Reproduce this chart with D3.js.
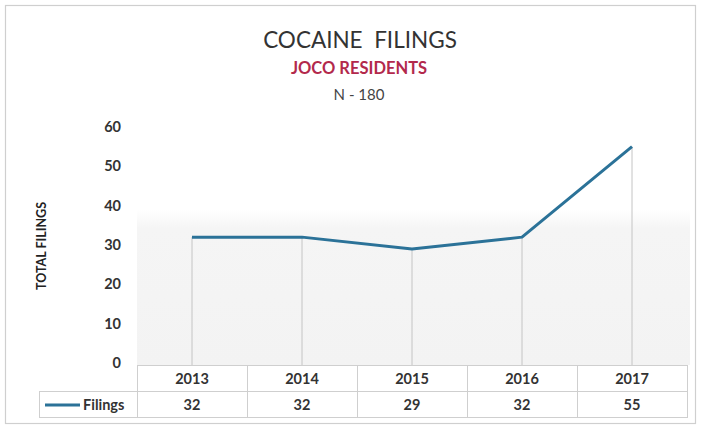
<!DOCTYPE html>
<html>
<head>
<meta charset="utf-8">
<script src="https://cdn.jsdelivr.net/npm/d3@7"></script>
<style>
  html, body { margin: 0; padding: 0; background: #fff; }
  svg { display: block; }
</style>
</head>
<body>
<svg id="chart" width="701" height="429"></svg>
<script>
// ---- data ----
const years = ["2013", "2014", "2015", "2016", "2017"];
const filings = [32, 32, 29, 32, 55];
const yTicks = [0, 10, 20, 30, 40, 50, 60];
const seriesName = "Filings";
const title = "COCAINE  FILINGS";
const subtitle = "JOCO RESIDENTS";
const note = "N - 180";
const yTitle = "TOTAL FILINGS";

// ---- layout ----
const W = 701, H = 429;
const plotLeft = 137, plotRight = 687, plotTop = 127, plotBottom = 363;
const tableTop = 365, rowH = 26, legendLeft = 39;
const lineColor = "#2b7298";
const font = "Lato, 'Open Sans', sans-serif";

const svg = d3.select("#chart");

const defs = svg.append("defs");
const grad = defs.append("linearGradient").attr("id", "shade").attr("x1", 0).attr("y1", 0).attr("x2", 0).attr("y2", 1);
grad.append("stop").attr("offset", "0%").attr("stop-color", "#f5f5f5").attr("stop-opacity", 0);
grad.append("stop").attr("offset", "12%").attr("stop-color", "#f5f5f5").attr("stop-opacity", 1);
grad.append("stop").attr("offset", "100%").attr("stop-color", "#f3f3f3").attr("stop-opacity", 1);

// outer frame
svg.append("rect").attr("x", 5.5).attr("y", 5.5).attr("width", W - 11).attr("height", H - 11)
  .attr("fill", "#fff").attr("stroke", "#cfcfcf").attr("stroke-width", 1.2);

const x = d3.scaleBand().domain(years).range([plotLeft, plotRight]);
const y = d3.scaleLinear().domain([0, 60]).range([plotBottom, plotTop]);

// faint plot area shading (scan texture)
svg.append("rect").attr("x", plotLeft).attr("y", y(39)).attr("width", plotRight - plotLeft + 3)
  .attr("height", tableTop - y(39)).attr("fill", "url(#shade)");

// titles
svg.append("text").attr("x", 360).attr("y", 48).attr("text-anchor", "middle")
  .attr("font-family", font).attr("font-size", 22.5).attr("fill", "#333")
  .attr("xml:space", "preserve").text(title);
svg.append("text").attr("x", 359).attr("y", 74).attr("text-anchor", "middle")
  .attr("font-family", font).attr("font-size", 16.5).attr("font-weight", "bold").attr("fill", "#b3294c")
  .text(subtitle);
svg.append("text").attr("x", 359).attr("y", 100).attr("text-anchor", "middle")
  .attr("font-family", font).attr("font-size", 15).attr("fill", "#444").text(note);

// y axis labels
const yAxis = d3.axisLeft(y).tickValues(yTicks).tickSize(0).tickPadding(0);
const gy = svg.append("g").attr("transform", "translate(121,0)").call(yAxis);
gy.select(".domain").remove();
gy.selectAll("text").attr("font-family", font).attr("font-size", 14.5).attr("font-weight", "bold")
  .attr("fill", "#333");

// y title
svg.append("text").attr("transform", "translate(46,246) rotate(-90)").attr("text-anchor", "middle")
  .attr("font-family", font).attr("font-size", 12.5).attr("font-weight", "bold").attr("fill", "#222")
  .text(yTitle);

// drop lines
svg.append("g").selectAll("line").data(years).join("line")
  .attr("x1", d => x(d) + x.bandwidth() / 2).attr("x2", d => x(d) + x.bandwidth() / 2)
  .attr("y1", (d, i) => y(filings[i])).attr("y2", tableTop)
  .attr("stroke", "#c4c4c4").attr("stroke-width", 1);

// line
const line = d3.line().x((d, i) => x(years[i]) + x.bandwidth() / 2).y(d => y(d));
svg.append("path").datum(filings).attr("d", line).attr("fill", "none")
  .attr("stroke", lineColor).attr("stroke-width", 3).attr("stroke-linejoin", "round");

// data table
const tg = svg.append("g");
const gridColor = "#cfcfcf";
tg.selectAll("rect.yr").data(years).join("rect").attr("class", "yr")
  .attr("x", d => x(d) + 0.5).attr("y", tableTop + 0.5).attr("width", x.bandwidth()).attr("height", rowH)
  .attr("fill", "#fff").attr("stroke", gridColor);
tg.selectAll("rect.val").data(years).join("rect").attr("class", "val")
  .attr("x", d => x(d) + 0.5).attr("y", tableTop + rowH + 0.5).attr("width", x.bandwidth()).attr("height", rowH)
  .attr("fill", "#fff").attr("stroke", gridColor);
tg.append("rect").attr("x", legendLeft + 0.5).attr("y", tableTop + rowH + 0.5)
  .attr("width", plotLeft - legendLeft).attr("height", rowH).attr("fill", "#fff").attr("stroke", gridColor);

tg.selectAll("text.yr").data(years).join("text").attr("class", "yr")
  .attr("x", d => x(d) + x.bandwidth() / 2).attr("y", tableTop + rowH / 2 + 5.5)
  .attr("text-anchor", "middle").attr("font-family", font).attr("font-size", 14.5).attr("font-weight", "bold")
  .attr("fill", "#333").text(d => d);
tg.selectAll("text.val").data(filings).join("text").attr("class", "val")
  .attr("x", (d, i) => x(years[i]) + x.bandwidth() / 2).attr("y", tableTop + rowH * 1.5 + 5.5)
  .attr("text-anchor", "middle").attr("font-family", font).attr("font-size", 14.5).attr("font-weight", "bold")
  .attr("fill", "#333").text(d => d);

// legend key
tg.append("line").attr("x1", 45).attr("x2", 80).attr("y1", tableTop + rowH * 1.5 + 1).attr("y2", tableTop + rowH * 1.5 + 1)
  .attr("stroke", lineColor).attr("stroke-width", 3);
tg.append("text").attr("x", 83).attr("y", tableTop + rowH * 1.5 + 5.5).attr("font-family", font)
  .attr("font-size", 14.5).attr("font-weight", "bold").attr("fill", "#333").text(seriesName);
</script>
</body>
</html>
